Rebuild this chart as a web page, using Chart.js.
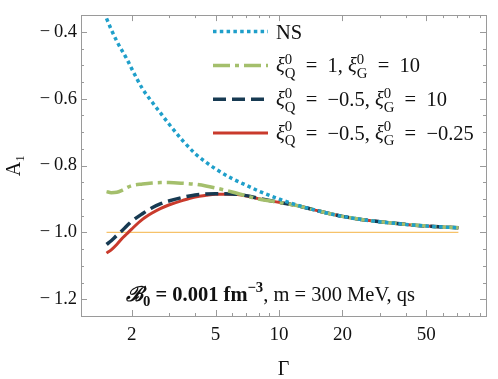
<!DOCTYPE html>
<html lang="en">
<head>
    <meta charset="UTF-8">
    <title>A1 vs Gamma</title>
    <script src="https://cdn.jsdelivr.net/npm/chart.js"></script>
    <style>
        html, body { margin: 0; padding: 0; background: #fff; }
        #wrap { width: 498px; height: 379px; }
    </style>
</head>
<body>
    <div id="wrap"><canvas id="a1Chart"></canvas></div>

    <script>
        // values
        const gamma  = [1.52, 1.6, 1.7, 1.8, 1.9, 2.0, 2.25, 2.5, 2.75, 3.0, 3.5, 4.0, 4.5, 5.0, 6.0, 7.0, 8.0, 10, 12, 15, 20, 25, 30, 40, 50, 60, 71];
        const nsVals = [-0.360, -0.393, -0.428, -0.456, -0.482, -0.510, -0.570, -0.610, -0.644, -0.675, -0.726, -0.764, -0.790, -0.810, -0.839, -0.859, -0.876, -0.900, -0.917, -0.934, -0.952, -0.962, -0.968, -0.976, -0.981, -0.984, -0.986];
        const q1g10  = [-0.878, -0.881, -0.880, -0.874, -0.866, -0.860, -0.855, -0.852, -0.851, -0.851, -0.853, -0.856, -0.861, -0.867, -0.879, -0.891, -0.900, -0.910, -0.919, -0.934, -0.952, -0.962, -0.968, -0.976, -0.981, -0.984, -0.986];
        const qm05g10 = [-1.036, -1.025, -1.009, -0.995, -0.980, -0.967, -0.944, -0.926, -0.914, -0.906, -0.895, -0.888, -0.885, -0.884, -0.885, -0.890, -0.898, -0.910, -0.919, -0.934, -0.952, -0.962, -0.968, -0.976, -0.981, -0.984, -0.986];
        const qm05gm025 = [-1.062, -1.052, -1.036, -1.018, -1.004, -0.990, -0.961, -0.942, -0.928, -0.918, -0.904, -0.894, -0.889, -0.886, -0.886, -0.891, -0.899, -0.910, -0.919, -0.934, -0.952, -0.962, -0.968, -0.976, -0.981, -0.984, -0.986];
        const refX = [1.52, 71];
        const refY = [-1.0, -1.0];

        const xTicks = [2, 5, 10, 20, 50];
        const yTicks = [-1.2, -1.0, -0.8, -0.6, -0.4];

        const serif = '"Liberation Serif", "Times New Roman", serif';

        // rich text pieces for legend / annotation (en spaces round "=" like the original layout)
        const eq = '\u2002=\u2002';
        const xi = (s) => [{ text: 'ξ', italic: true }, { text: '0', shift: 'sup', keep: true }, { text: s, shift: 'sub' }];
        const legendLabels = [
            [{ text: 'NS' }],
            [...xi('Q'), { text: eq + '1, ' }, ...xi('G'), { text: eq + '10' }],
            [...xi('Q'), { text: eq + '−0.5, ' }, ...xi('G'), { text: eq + '10' }],
            [...xi('Q'), { text: eq + '−0.5, ' }, ...xi('G'), { text: eq + '−0.25' }]
        ];
        const noteText = [
            { text: 'ℬ', bold: true, italic: true },
            { text: '0', bold: true, shift: 'sub' },
            { text: ' = 0.001 fm', bold: true },
            { text: '−3', bold: true, shift: 'sup' },
            { text: ', m = 300 MeV, qs' }
        ];

        function drawRich(ctx, parts, x, y, size) {
            let cx = x, held = 0;
            parts.forEach(p => {
                const sz = p.shift ? size * 0.72 : size;
                ctx.font = (p.italic ? 'italic ' : '') + (p.bold ? 'bold ' : '') + sz + 'px ' + serif;
                let dy = 0;
                if (p.shift === 'sup') dy = -size * 0.42;
                if (p.shift === 'sub') dy = size * 0.26;
                ctx.fillText(p.text, cx, y + dy);
                const w = ctx.measureText(p.text).width;
                if (p.keep) {
                    held = Math.max(held, w);
                } else {
                    cx += Math.max(w, held);
                    held = 0;
                }
            });
        }

        const toPts = (xs, ys) => xs.map((g, i) => ({ x: g, y: ys[i] }));

        const framePlugin = {
            id: 'frame',
            afterDraw(chart) {
                const { ctx, chartArea: a, scales } = chart;
                const xs = scales.x, ys = scales.y;
                ctx.save();
                ctx.strokeStyle = '#9a9a9a';
                ctx.lineWidth = 1;
                ctx.strokeRect(Math.round(a.left) + 0.5, Math.round(a.top) + 0.5, Math.round(a.right - a.left), Math.round(a.bottom - a.top));

                ctx.beginPath();
                // x ticks: 1..9 multiples of each decade
                for (let d = 1; d <= 10; d *= 10) {
                    for (let m = 1; m <= 9; m++) {
                        const v = m * d;
                        if (v < xs.min || v > xs.max) continue;
                        const px = Math.round(xs.getPixelForValue(v)) + 0.5;
                        const len = xTicks.includes(v) ? 6 : 3;
                        ctx.moveTo(px, a.bottom); ctx.lineTo(px, a.bottom - len);
                        ctx.moveTo(px, a.top); ctx.lineTo(px, a.top + len);
                    }
                }
                // y ticks every 0.05
                for (let k = -25; k <= -7; k++) {
                    const v = k * 0.05;
                    if (v < ys.min - 1e-9 || v > ys.max + 1e-9) continue;
                    const py = Math.round(ys.getPixelForValue(v)) + 0.5;
                    const len = yTicks.some(t => Math.abs(t - v) < 1e-6) ? 6 : 3;
                    ctx.moveTo(a.left, py); ctx.lineTo(a.left + len, py);
                    ctx.moveTo(a.right, py); ctx.lineTo(a.right - len, py);
                }
                ctx.stroke();

                // legend
                ctx.fillStyle = '#111';
                ctx.textBaseline = 'alphabetic';
                const dsList = chart.data.datasets.slice(0, 4);
                dsList.forEach((ds, i) => {
                    const ly = a.top + 16.5 + i * 33.8;
                    const lx = a.left + 132;
                    ctx.save();
                    ctx.strokeStyle = ds.borderColor;
                    ctx.lineWidth = ds.borderWidth;
                    ctx.setLineDash(ds.borderDash || []);
                    ctx.beginPath();
                    ctx.moveTo(lx, ly); ctx.lineTo(lx + 55, ly);
                    ctx.stroke();
                    ctx.restore();
                    drawRich(ctx, legendLabels[i], lx + 63, ly + 7, 20.5);
                });

                // annotation
                drawRich(ctx, noteText, a.left + 45, a.bottom - 15, 20.5);
                ctx.restore();
            }
        };

        const ctx = document.getElementById('a1Chart').getContext('2d');
        new Chart(ctx, {
            type: 'line',
            data: {
                datasets: [
                    { label: 'NS', data: toPts(gamma, nsVals), borderColor: '#1f9fca', borderWidth: 3.5, borderDash: [3.5, 3.3] },
                    { label: 'xiQ=1, xiG=10', data: toPts(gamma, q1g10), borderColor: '#a4bf6c', borderWidth: 3.5, borderDash: [17, 5, 4, 5] },
                    { label: 'xiQ=-0.5, xiG=10', data: toPts(gamma, qm05g10), borderColor: '#173a52', borderWidth: 3.5, borderDash: [13, 6] },
                    { label: 'xiQ=-0.5, xiG=-0.25', data: toPts(gamma, qm05gm025), borderColor: '#c93a2c', borderWidth: 3 },
                    { label: 'ref', data: toPts(refX, refY), borderColor: '#f6c26a', borderWidth: 1.2, tension: 0 }
                ]
            },
            options: {
                responsive: true,
                maintainAspectRatio: false,
                animation: false,
                layout: { padding: { top: 13, right: 12, left: 0, bottom: 0 } },
                elements: {
                    point: { radius: 0 },
                    line: { tension: 0.4, cubicInterpolationMode: 'monotone', fill: false }
                },
                plugins: { legend: { display: false }, tooltip: { enabled: false } },
                scales: {
                    x: {
                        type: 'logarithmic',
                        min: 1.15,
                        max: 96,
                        afterBuildTicks: s => { s.ticks = xTicks.map(v => ({ value: v })); },
                        afterFit: s => { s.height = 63; },
                        ticks: {
                            autoSkip: false, maxRotation: 0, padding: 8,
                            color: '#111', font: { family: serif, size: 19 },
                            callback: v => String(v)
                        },
                        grid: { display: false, drawTicks: false },
                        border: { display: false },
                        title: { display: true, text: 'Γ', color: '#111', font: { family: serif, size: 20 }, padding: { top: 0, bottom: -3 } }
                    },
                    y: {
                        min: -1.25,
                        max: -0.35,
                        afterBuildTicks: s => { s.ticks = yTicks.map(v => ({ value: v })); },
                        afterFit: s => { s.width = 81; },
                        ticks: {
                            padding: 4, color: '#111', font: { family: serif, size: 18.5 },
                            callback: v => (v < 0 ? '−\u2009' : '') + Math.abs(v).toFixed(1)
                        },
                        grid: { display: false, drawTicks: false },
                        border: { display: false },
                        title: { display: true, text: 'A₁', color: '#111', font: { family: serif, size: 20 }, padding: { top: 3, bottom: 0 } }
                    }
                }
            },
            plugins: [framePlugin]
        });
    </script>
</body>
</html>
